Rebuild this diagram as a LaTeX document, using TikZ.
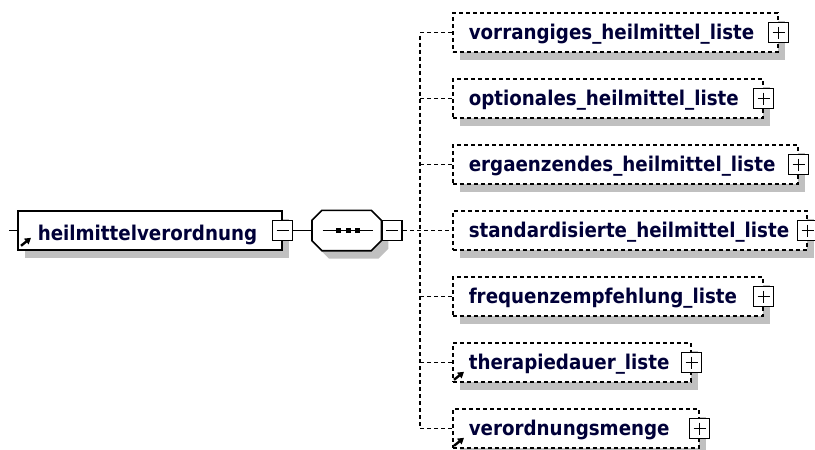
\documentclass[tikz,border=0pt]{standalone}
\usepackage{fontspec}
\newfontfamily\namefont{DejaVu Sans Condensed}
\usepackage{tikz}
\usetikzlibrary{shadows,arrows.meta}
\definecolor{namecol}{RGB}{0,0,56}
\definecolor{shadecol}{RGB}{192,192,192}
\newcommand\boxfont{\namefont\bfseries\fontsize{20.3}{21}\selectfont\hyphenpenalty=10000}
\tikzset{boxshade/.style={drop shadow={shadow xshift=7pt,shadow yshift=-8pt,fill=shadecol,opacity=1}}}
\tikzset{mainbox/.style={draw, line width=1.6pt, fill=white, boxshade, anchor=west,
  minimum height=39pt, inner xsep=20pt, text width=#1, align=left,
  text height=19pt, text depth=0pt, font=\boxfont, text=namecol}}
\tikzset{childbox/.style={mainbox=#1, inner xsep=16pt, text height=14pt,
  dash pattern=on 4pt off 3pt}}
\tikzset{seqbox/.style={anchor=west, minimum width=69pt, minimum height=40pt, inner sep=0pt}}
\tikzset{toggle/.style={draw, line width=1.6pt, fill=white, minimum size=20pt, inner sep=0pt}}
\tikzset{wire/.style={line width=1.6pt}}
\tikzset{dashwire/.style={line width=1.6pt, dash pattern=on 4pt off 3pt}}
\tikzset{reficon/.style={line width=2.4pt, -{Triangle[length=6pt,width=7pt]}}}

\begin{document}
\begin{tikzpicture}[x=1pt, y=-1pt]
\useasboundingbox (0,0) rectangle (815,450);

\coordinate (in) at (9,230.5);
\node[mainbox=224pt] (hmv) at (17,230.5) {heilmittelverordnung};
\draw[reficon] ([shift={(4,-5)}]hmv.south west) -- ++(10,-8);
\node[toggle] (hmvm) at (hmv.east) {};
\draw[wire] ([xshift=-6pt]hmvm.center) -- ([xshift=6pt]hmvm.center);

\node[seqbox] (seq) at (312,230.5) {};
\draw[wire, fill=white, boxshade] ([xshift=10pt]seq.north west) -- ([xshift=-10pt]seq.north east)
  -- ([yshift=-10pt]seq.north east) -- ([yshift=10pt]seq.south east)
  -- ([xshift=-10pt]seq.south east) -- ([xshift=10pt]seq.south west)
  -- ([yshift=10pt]seq.south west) -- ([yshift=-10pt]seq.north west) -- cycle;
\draw[wire] ([xshift=-24pt]seq.center) -- ([xshift=26pt]seq.center);
\fill ([shift={(-8,0)}]seq.center) +(-2.5,-2.5) rectangle +(2.5,2.5);
\fill ([shift={(1.5,0)}]seq.center) +(-2.5,-2.5) rectangle +(2.5,2.5);
\fill ([shift={(11,0)}]seq.center) +(-2.5,-2.5) rectangle +(2.5,2.5);
\node[toggle, anchor=west] (seqm) at (seq.east) {};
\draw[wire] ([xshift=-6pt]seqm.center) -- ([xshift=6pt]seqm.center);

\coordinate (jn) at (420,230.5);

\node[childbox=293pt] (c1) at (452,32.5) {vorrangiges\_heilmittel\_liste};
\node[childbox=278pt] (c2) at (452,98.5) {optionales\_heilmittel\_liste};
\node[childbox=313pt] (c3) at (452,164.5) {ergaenzendes\_heilmittel\_liste};
\node[childbox=322pt] (c4) at (452,230.5) {standardisierte\_heilmittel\_liste};
\node[childbox=278pt] (c5) at (452,296.5) {frequenzempfehlung\_liste};
\node[childbox=206pt] (c6) at (452,362.5) {therapiedauer\_liste};
\node[childbox=214pt] (c7) at (452,428.5) {verordnungsmenge};
\draw[reficon] ([shift={(2,-3)}]c6.south west) -- ++(10,-8);
\draw[reficon] ([shift={(2,-3)}]c7.south west) -- ++(10,-8);

\node[toggle] (c1p) at (c1.east) {};
\node[toggle] (c2p) at (c2.east) {};
\node[toggle] (c3p) at (c3.east) {};
\node[toggle] (c4p) at (c4.east) {};
\node[toggle] (c5p) at (c5.east) {};
\node[toggle] (c6p) at (c6.east) {};
\node[toggle] (c7p) at (c7.east) {};
\draw[wire] ([yshift=6pt]c1p.center) -- ([yshift=-6pt]c1p.center) ([xshift=-6pt]c1p.center) -- ([xshift=6pt]c1p.center);
\draw[wire] ([yshift=6pt]c2p.center) -- ([yshift=-6pt]c2p.center) ([xshift=-6pt]c2p.center) -- ([xshift=6pt]c2p.center);
\draw[wire] ([yshift=6pt]c3p.center) -- ([yshift=-6pt]c3p.center) ([xshift=-6pt]c3p.center) -- ([xshift=6pt]c3p.center);
\draw[wire] ([yshift=6pt]c4p.center) -- ([yshift=-6pt]c4p.center) ([xshift=-6pt]c4p.center) -- ([xshift=6pt]c4p.center);
\draw[wire] ([yshift=6pt]c5p.center) -- ([yshift=-6pt]c5p.center) ([xshift=-6pt]c5p.center) -- ([xshift=6pt]c5p.center);
\draw[wire] ([yshift=6pt]c6p.center) -- ([yshift=-6pt]c6p.center) ([xshift=-6pt]c6p.center) -- ([xshift=6pt]c6p.center);
\draw[wire] ([yshift=6pt]c7p.center) -- ([yshift=-6pt]c7p.center) ([xshift=-6pt]c7p.center) -- ([xshift=6pt]c7p.center);

\draw[wire] (in) -- (hmv);
\draw[wire] (hmvm) -- (seq);
\draw[dashwire] (seqm) -- (c4);
\draw[dashwire] (c1) -| (jn);
\draw[dashwire] (c7) -| (jn);
\draw[dashwire] (c2) -- (c2 -| jn);
\draw[dashwire] (c3) -- (c3 -| jn);
\draw[dashwire] (c5) -- (c5 -| jn);
\draw[dashwire] (c6) -- (c6 -| jn);
\end{tikzpicture}
\end{document}
